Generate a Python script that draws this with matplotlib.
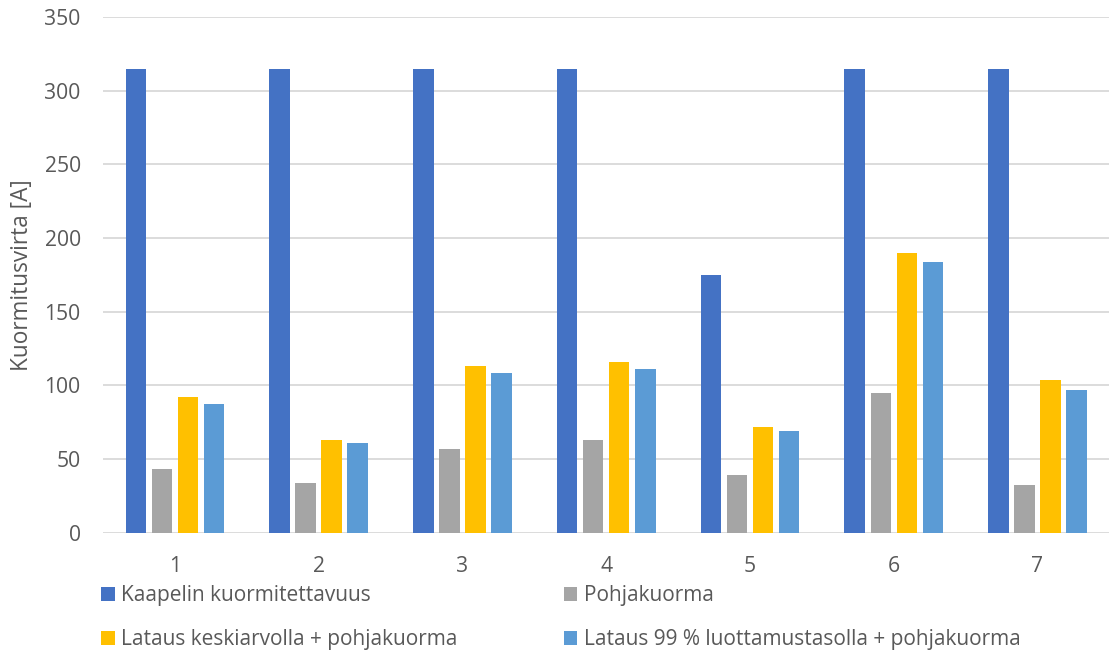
import matplotlib
matplotlib.use("Agg")
import matplotlib.pyplot as plt
import numpy as np

categories = ["1", "2", "3", "4", "5", "6", "7"]
series_names = ["Kaapelin kuormitettavuus", "Pohjakuorma",
                "Lataus keskiarvolla + pohjakuorma",
                "Lataus 99 % luottamustasolla + pohjakuorma"]
kuormitettavuus = [315, 315, 315, 315, 175, 315, 315]
pohjakuorma = [43.3, 34, 57, 63.2, 39.2, 94.7, 32.4]
keskiarvo = [92.4, 63, 113.5, 115.8, 71.8, 190, 104]
luottamus = [87.2, 61, 108.7, 111.4, 68.9, 183.7, 96.7]
yticks = [0, 50, 100, 150, 200, 250, 300, 350]

colors = ["#4472C4", "#A5A5A5", "#FFC000", "#5B9BD5"]
plt.rcParams['font.family'] = ['Open Sans', 'DejaVu Sans']

fig = plt.figure(figsize=(11.09, 6.53), dpi=100)
ax = fig.add_axes([0.0929, 0.184, 0.9075, 0.790])

x = np.arange(len(categories))
pitch = 0.181
width = 0.1426
data = [kuormitettavuus, pohjakuorma, keskiarvo, luottamus]
handles = []
for i, (vals, name, c) in enumerate(zip(data, series_names, colors)):
    h = ax.bar(x + (i - 1.5) * pitch, vals, width, color=c, label=name, zorder=3)
    handles.append(h)

ax.set_xlim(-0.5, len(categories) - 0.5)
ax.set_ylim(0, 350)
ax.set_yticks(yticks)
ax.set_xticks(x)
ax.set_xticklabels(categories)
ax.grid(axis='y', color='#d9d9d9', linewidth=1.3, zorder=0)
for s in ax.spines.values():
    s.set_visible(False)
ax.tick_params(axis='both', length=0, labelsize=15.2, colors='#595959')
ax.tick_params(axis='y', pad=16)
ax.tick_params(axis='x', pad=17)
ax.set_ylabel("Kuormitusvirta [A]", fontsize=16.3, color='#595959')
ax.yaxis.set_label_coords(-0.069, 0.5)

order = [0, 2, 1, 3]
leg = fig.legend([handles[i] for i in order], [series_names[i] for i in order],
                 loc='center left', bbox_to_anchor=(0.082, 0.054), ncol=2,
                 frameon=False, fontsize=15, handlelength=0.65, handleheight=0.65,
                 handletextpad=0.3, columnspacing=5.1, labelspacing=1.1,
                 labelcolor='#595959', borderpad=0)

fig.savefig("out.png", dpi=100)
